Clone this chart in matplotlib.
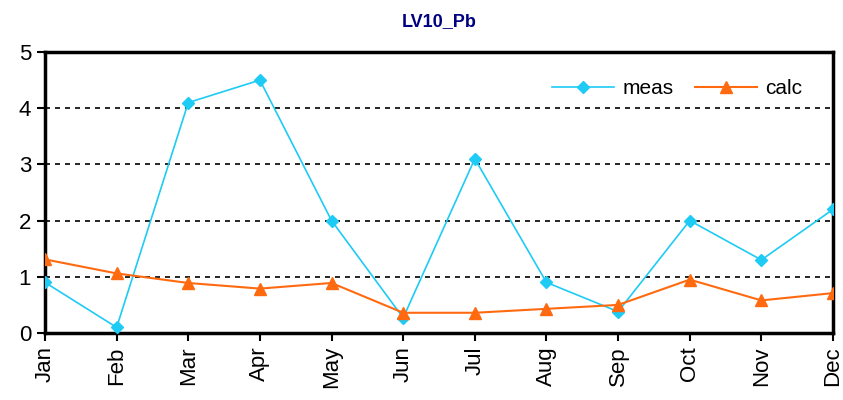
import matplotlib
matplotlib.use("Agg")
import matplotlib.pyplot as plt

months = ["Jan", "Feb", "Mar", "Apr", "May", "Jun",
          "Jul", "Aug", "Sep", "Oct", "Nov", "Dec"]
meas = [0.9, 0.1, 4.1, 4.5, 2.0, 0.27, 3.1, 0.9, 0.38, 2.0, 1.3, 2.2]
calc = [1.31, 1.06, 0.89, 0.79, 0.89, 0.36, 0.36, 0.43, 0.5, 0.95, 0.58, 0.71]
yticks = [0, 1, 2, 3, 4, 5]

plt.rcParams["font.family"] = ["Liberation Sans", "DejaVu Sans"]

fig = plt.figure(figsize=(8.43, 4.0), dpi=100)
ax = fig.add_axes([45 / 843, 67 / 400, 788 / 843, 281 / 400])

x = list(range(len(months)))
ax.plot(x, meas, color="#1ECBF5", lw=1.2, marker="D", ms=6.5,
        label="meas", zorder=3)
ax.plot(x, calc, color="#FF6A10", lw=1.5, marker="^", ms=8.5,
        label="calc", zorder=3)

for v in yticks[1:-1]:
    ax.axhline(v, color="black", lw=1.2, ls=(0, (3, 3)), zorder=1)

ax.set_xlim(0, len(months) - 1)
ax.set_ylim(0, 5)
ax.set_yticks(yticks)
ax.set_xticks(x)
ax.set_xticklabels(months, rotation=90)
ax.tick_params(axis="both", labelsize=16, width=1.5, length=6, direction="out")
ax.tick_params(axis="y", pad=4)
for s in ax.spines.values():
    s.set_linewidth(2.5)

ax.set_title("LV10_Pb", color="#000080", fontsize=13, fontweight="bold", pad=19)

leg = ax.legend(loc="upper right", ncol=2, fontsize=15, frameon=True,
                fancybox=False, edgecolor="none", framealpha=1,
                bbox_to_anchor=(0.985, 0.97), handlelength=3,
                columnspacing=1.0, handletextpad=0.4)
leg.set_zorder(5)

fig.savefig("out.png", dpi=100)
